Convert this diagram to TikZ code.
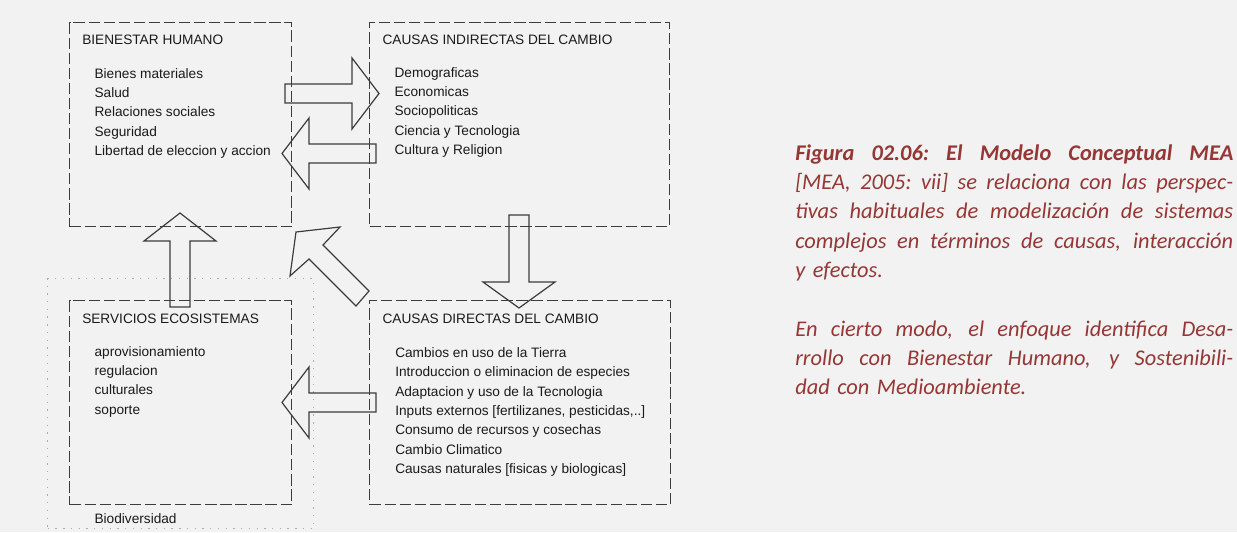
\documentclass[tikz,border=0pt]{standalone}
\usepackage{fontspec}
\setmainfont{Liberation Sans}
\newfontfamily\notefont{Carlito}
\definecolor{paper}{HTML}{F2F2F2}
\definecolor{linegray}{HTML}{3C3C3C}
\definecolor{inkgray}{HTML}{1A1A1A}
\definecolor{dotgray}{HTML}{ABABAB}
\definecolor{notered}{HTML}{953735}
\newcommand{\fullline}[1]{\makebox[328.5pt][s]{\spaceskip=0.22em plus 1fil\xspaceskip=0.22em plus 1fil\relax #1}}
\tikzset{
  dashbox/.style={draw=linegray, line width=0.9pt, dash pattern=on 8.5pt off 2.8pt,
    anchor=north west, inner sep=0pt, minimum height=153pt},
  dotbox/.style={draw=dotgray, line width=1.1pt, dash pattern=on 1pt off 4.8pt,
    anchor=north west, inner sep=0pt},
  boxtitle/.style={anchor=base west, inner sep=0pt, text=inkgray, font=\fontsize{10.25pt}{12pt}\selectfont},
  itemlist/.style={anchor=north west, inner sep=0pt, text=inkgray, align=left,
    font=\fontsize{10.25pt}{14.5pt}\selectfont},
  blockarrow/.style={draw=linegray, line width=0.9pt, line join=miter},
  note/.style={anchor=base west, inner sep=0pt, text=notered, align=left, text width=328.5pt,
    font=\notefont\itshape\fontsize{16.8pt}{22pt}\selectfont}
}
\begin{document}
\begin{tikzpicture}[x=0.75pt,y=-0.75pt]
  \fill[paper] (0,0) rectangle (1237,532);
  \useasboundingbox (0,0) rectangle (1237,532);

  % boxes
  \node[dotbox, minimum width=199.5pt, minimum height=187.5pt] (bio) at (47,278) {};
  \node[dashbox, minimum width=166.5pt] (bh) at (69,22) {};
  \node[dashbox, minimum width=225pt] (ci) at (369,22) {};
  \node[dashbox, minimum width=166.5pt] (se) at (69,300) {};
  \node[dashbox, minimum width=225.75pt] (cd) at (369,300) {};

  % texts
  \node[boxtitle] (bhtitle) at (82,44.3) {BIENESTAR HUMANO};
  \node[itemlist] (bhlist) at (94.3,64.5) {\strut Bienes materiales\\Salud\\Relaciones sociales\\Seguridad\\Libertad de eleccion y accion};
  \node[boxtitle] (cititle) at (382.3,44.3) {CAUSAS INDIRECTAS DEL CAMBIO};
  \node[itemlist] (cilist) at (394.3,63.5) {\strut Demograficas\\Economicas\\Sociopoliticas\\Ciencia y Tecnologia\\Cultura y Religion};
  \node[boxtitle] (setitle) at (82,323.3) {SERVICIOS ECOSISTEMAS};
  \node[itemlist] (selist) at (94.3,342.2) {\strut aprovisionamiento\\regulacion\\culturales\\soporte};
  \node[boxtitle] (cdtitle) at (382.3,323.3) {CAUSAS DIRECTAS DEL CAMBIO};
  \node[itemlist] (cdlist) at (395,343.8) {\strut Cambios en uso de la Tierra\\Introduccion o eliminacion de especies\\Adaptacion y uso de la Tecnologia\\Inputs externos [fertilizanes, pesticidas,..]\\Consumo de recursos y cosechas\\Cambio Climatico\\Causas naturales [fisicas y biologicas]};
  \node[boxtitle] (biotitle) at (94.3,523.3) {Biodiversidad};

  % block arrows
  \draw[blockarrow] (285,84)--++(67,0)--++(0,-26)--++(27,35.5)--++(-27,35.5)--++(0,-26)--++(-67,0)--cycle;
  \draw[blockarrow] (376,144)--++(-67,0)--++(0,-26)--++(-27,35.5)--++(27,35.5)--++(0,-26)--++(67,0)--cycle;
  \draw[blockarrow] (509,215)--++(0,67)--++(-26,0)--++(36,26)--++(36,-26)--++(-26,0)--++(0,-67)--cycle;
  \draw[blockarrow] (376,393)--++(-67,0)--++(0,-26)--++(-27,35.5)--++(27,35.5)--++(0,-26)--++(67,0)--cycle;
  \draw[blockarrow] (170,307)--++(0,-66)--++(-26,0)--++(36,-28)--++(36,28)--++(-26,0)--++(0,66)--cycle;
  \draw[blockarrow] (369,291)--(323,245)--(340,227)--(296,232)--(290,276)--(309,259)--(356,306)--cycle;

  % caption
  \node[note] (caption) at (795,160) {%
    \fullline{\bfseries Figura 02.06: El Modelo Conceptual MEA}\\
    \fullline{[MEA, 2005: vii] se relaciona con las perspec-}\\
    \fullline{tivas habituales de modelización de sistemas}\\
    \fullline{complejos en términos de causas, interacción}\\
    y efectos.\\[22pt]
    \fullline{En cierto modo, el enfoque identifica Desa-}\\
    \fullline{rrollo con Bienestar Humano, y Sostenibili-}\\
    dad con Medioambiente.};
\end{tikzpicture}
\end{document}
